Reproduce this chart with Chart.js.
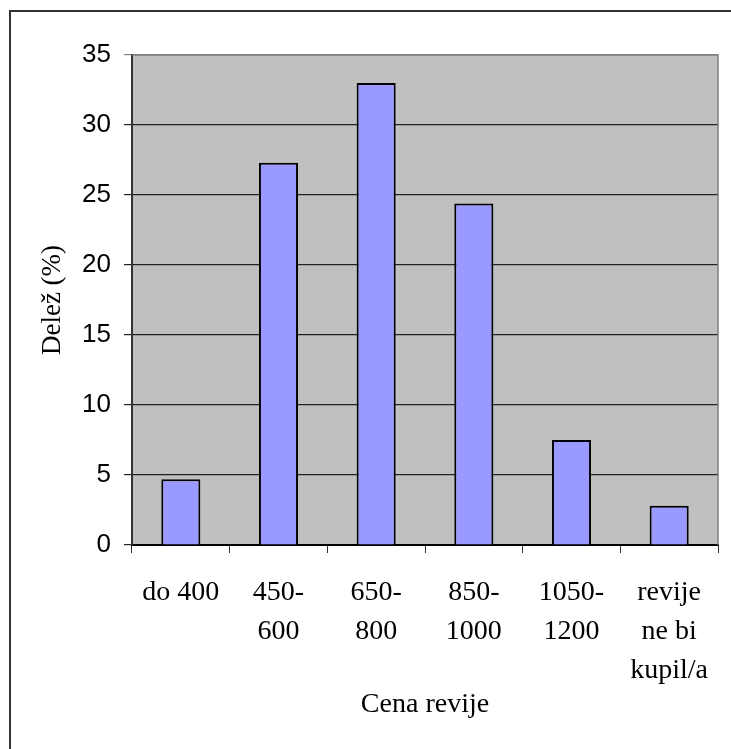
<!DOCTYPE html>
<html>
<head>
<meta charset="utf-8">
<title>Cena revije</title>
<script src="https://cdn.jsdelivr.net/npm/chart.js@4.4.0/dist/chart.umd.min.js"></script>
<style>
  body { margin: 0; background: #fff; }
  #wrap { position: relative; width: 731px; height: 749px; overflow: hidden; }
</style>
</head>
<body>
<div id="wrap"><canvas id="myChart" width="731" height="749"></canvas></div>
<script>
// price ranges (multi-line labels) and share of answers in %
const categories = [
    ['do 400'],
    ['450-', '600'],
    ['650-', '800'],
    ['850-', '1000'],
    ['1050-', '1200'],
    ['revije', 'ne bi', 'kupil/a']
];
const shares = [4.7, 27.3, 33.0, 24.4, 7.5, 2.8];
const yTicks = [0, 5, 10, 15, 20, 25, 30, 35];

const serif = '"Liberation Serif", "Times New Roman", serif';
const sans = '"Liberation Sans", Arial, sans-serif';

// white page, outer frame, grey plot area
const plotFrame = {
    id: 'plotFrame',
    beforeDraw(chart) {
        const { ctx, chartArea: a } = chart;
        ctx.save();
        ctx.fillStyle = '#fff';
        ctx.fillRect(0, 0, chart.width, chart.height);
        ctx.strokeStyle = '#333';
        ctx.lineWidth = 2;
        ctx.strokeRect(10, 11, 900, 900);
        ctx.fillStyle = '#c0c0c0';
        ctx.fillRect(a.left, a.top, a.right - a.left, a.bottom - a.top);
        ctx.restore();
    },
    beforeDatasetsDraw(chart) {
        const { ctx, chartArea: a } = chart;
        ctx.save();
        ctx.strokeStyle = '#808080';
        ctx.lineWidth = 1.5;
        ctx.beginPath();
        ctx.moveTo(a.left, a.top);
        ctx.lineTo(a.right, a.top);
        ctx.lineTo(a.right, a.bottom);
        ctx.stroke();
        ctx.restore();
    }
};

const data = {
    labels: categories,
    datasets: [{
        data: shares,
        backgroundColor: '#9999ff',
        borderColor: '#000',
        borderWidth: 2,
        barPercentage: 0.4,
        categoryPercentage: 1.0
    }]
};

const config = {
    type: 'bar',
    data: data,
    options: {
        responsive: false,
        animation: false,
        devicePixelRatio: 1,
        layout: { padding: { top: 55, right: 13, left: 0, bottom: 0 } },
        plugins: {
            legend: { display: false },
            tooltip: { enabled: false }
        },
        scales: {
            x: {
                afterFit(scale) { scale.height = 204; },
                grid: {
                    offset: true,
                    drawOnChartArea: false,
                    tickLength: 8,
                    color: '#333',
                    lineWidth: 1
                },
                border: { color: '#000', width: 2 },
                ticks: {
                    color: '#000',
                    font: { family: serif, size: 28, lineHeight: 39 / 28 },
                    padding: 20,
                    maxRotation: 0,
                    autoSkip: false
                },
                title: {
                    display: true,
                    text: 'Cena revije',
                    color: '#000',
                    font: { family: serif, size: 28 },
                    padding: { top: 0, bottom: 28 }
                }
            },
            y: {
                min: 0,
                max: 35,
                afterFit(scale) { scale.width = 132; },
                afterBuildTicks(scale) {
                    scale.ticks = yTicks.map(v => ({ value: v }));
                },
                grid: {
                    tickLength: 8,
                    color: ctx => (ctx.tick && ctx.tick.value === 35) ? '#808080' : '#222',
                    lineWidth: 1.2
                },
                border: { color: '#333', width: 2 },
                ticks: {
                    color: '#000',
                    font: { family: sans, size: 26 },
                    padding: 13
                },
                title: {
                    display: true,
                    text: 'Delež (%)',
                    color: '#000',
                    font: { family: serif, size: 27 },
                    padding: { top: 37, bottom: 0 }
                }
            }
        }
    },
    plugins: [plotFrame]
};

new Chart(document.getElementById('myChart'), config);
</script>
</body>
</html>
